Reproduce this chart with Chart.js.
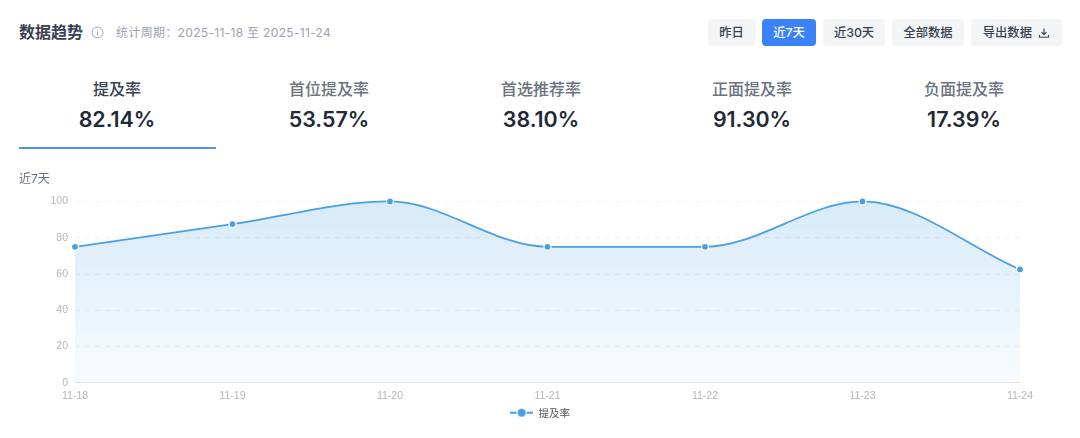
<!DOCTYPE html>
<html>
<head>
<meta charset="utf-8">
<script src="https://cdn.jsdelivr.net/npm/chart.js@4"></script>
<style>
  html, body { margin: 0; padding: 0; background: #fff; }
  body { width: 1080px; height: 438px; position: relative; overflow: hidden; font-family: Inter, "Noto Sans CJK SC", sans-serif; }
  .title { position: absolute; left: 19px; top: 21px; font-size: 16px; line-height: 22px; font-weight: 600; color: #374151; }
  .info { position: absolute; left: 91px; top: 26px; }
  .period { position: absolute; left: 116px; top: 24px; font-size: 12px; line-height: 17px; color: #9ca3af; letter-spacing: .32px; }
  .btn { position: absolute; top: 19px; height: 27px; line-height: 27px; text-align: center; font-size: 12.3px; font-weight: 500; color: #374151; background: #f3f4f6; border-radius: 4px; }
  .btn.on { background: #3b82f6; color: #fff; }
  .btn svg { vertical-align: -2px; margin-left: 3px; }
  .tab { position: absolute; top: 78px; width: 212px; text-align: center; }
  .tab .name { font-size: 16px; line-height: 22px; font-weight: 500; color: #6b7280; }
  .tab.on .name { color: #374151; }
  .tab .val { font-size: 21.4px; line-height: 28px; margin-top: 5px; font-weight: 600; color: #1f2937; }
  .bar { position: absolute; left: 19px; top: 147px; width: 197px; height: 2px; background: #4f8ff0; }
  .wrap { position: absolute; left: 0; top: 168px; width: 1080px; height: 270px; }
</style>
</head>
<body>
<div class="title">数据趋势</div>
<svg class="info" width="13" height="13" viewBox="0 0 13 13" fill="none" stroke="#9ca3af"><circle cx="6.5" cy="6.5" r="5.4"/><path d="M6.5 5.8v3.6M6.5 3.6v1"/></svg>
<div class="period">统计周期：2025-11-18 至 2025-11-24</div>
<div id="btns"></div>
<div id="tabs"></div>
<div class="bar"></div>
<div class="wrap"><canvas id="trend"></canvas></div>

<script>
const dates = ["11-18", "11-19", "11-20", "11-21", "11-22", "11-23", "11-24"];
const mention = [75, 87.5, 100, 75, 75, 100, 62.5];
const yTicks = [0, 20, 40, 60, 80, 100];

const tabNames = ["提及率", "首位提及率", "首选推荐率", "正面提及率", "负面提及率"];
const tabValues = ["82.14%", "53.57%", "38.10%", "91.30%", "17.39%"];
const tabLeft = [11, 223, 435, 646, 858];

const btnNames = ["昨日", "近7天", "近30天", "全部数据", "导出数据"];
const btnLeft = [708, 762, 823, 892, 971];
const btnWidth = [47, 54, 62, 72, 91];

const downloadIcon = '<svg width="12" height="12" viewBox="0 0 12 12" fill="none" stroke="#374151" stroke-width="1.1"><path d="M6 1.5v6M3.6 5.2 6 7.6l2.4-2.4M1.5 8v2.2h9V8"/></svg>';

btnNames.forEach((name, i) => {
  let b = document.createElement("div");
  b.className = "btn" + (i == 1 ? " on" : "");
  b.style.left = btnLeft[i] + "px";
  b.style.width = btnWidth[i] + "px";
  b.innerHTML = name + (i == 4 ? " " + downloadIcon : "");
  document.getElementById("btns").appendChild(b);
});

tabNames.forEach((name, i) => {
  let t = document.createElement("div");
  t.className = "tab" + (i == 0 ? " on" : "");
  t.style.left = tabLeft[i] + "px";
  t.innerHTML = '<div class="name">' + name + '</div><div class="val">' + tabValues[i] + '</div>';
  document.getElementById("tabs").appendChild(t);
});

// legend symbol: short line with a dot in the middle
function legendIcon() {
  let c = document.createElement("canvas");
  c.width = 23;
  c.height = 10;
  let g = c.getContext("2d");
  g.fillStyle = "#4a9fe3";
  g.fillRect(0, 4, 6.5, 2);
  g.fillRect(16.5, 4, 6.5, 2);
  g.beginPath();
  g.arc(11.5, 5, 4, 0, Math.PI * 2);
  g.fill();
  return c;
}

// the legend sits in the middle of the page, not of the padded chart box
const centerLegend = {
  id: "centerLegend",
  afterLayout(chart) {
    let shift = chart.width / 2 - (chart.legend.left + chart.legend.right) / 2;
    chart.legend.left += shift;
    chart.legend.right += shift;
  }
};

new Chart(document.getElementById("trend"), {
  type: "line",
  plugins: [centerLegend],
  data: {
    labels: dates,
    datasets: [{
      label: "提及率",
      data: mention,
      borderColor: "#4a9fe3",
      borderWidth: 1.8,
      cubicInterpolationMode: "monotone",
      clip: false,
      fill: true,
      backgroundColor: (ctx) => {
        let area = ctx.chart.chartArea;
        if (!area) return "transparent";
        let grad = ctx.chart.ctx.createLinearGradient(0, area.top, 0, area.bottom);
        grad.addColorStop(0, "rgba(74,159,227,0.22)");
        grad.addColorStop(1, "rgba(74,159,227,0.04)");
        return grad;
      },
      pointRadius: 3.5,
      pointBorderWidth: 1.2,
      pointBackgroundColor: "#4a9fe3",
      pointBorderColor: "#fff"
    }]
  },
  options: {
    responsive: true,
    maintainAspectRatio: false,
    animation: false,
    layout: { padding: { left: 19, right: 60, top: 0, bottom: 10 } },
    plugins: {
      tooltip: { enabled: false },
      title: {
        display: true,
        text: "近7天",
        align: "start",
        color: "#6b7280",
        font: { family: 'Inter, "Noto Sans CJK SC"', size: 12, weight: "normal" },
        padding: { top: 4, bottom: 15 }
      },
      legend: {
        position: "bottom",
        labels: {
          usePointStyle: true,
          pointStyleWidth: 23,
          color: "#555",
          font: { family: '"Noto Sans CJK SC"', size: 10.5 },
          boxHeight: 10,
          padding: 6,
          generateLabels: (chart) => [{
            text: chart.data.datasets[0].label,
            fontColor: "#555",
            pointStyle: legendIcon(),
            datasetIndex: 0
          }]
        }
      }
    },
    scales: {
      x: {
        offset: false,
        grid: { display: false },
        border: { color: "#e2e6ec" },
        ticks: { color: "#b5b5b5", font: { family: "Liberation Sans", size: 10.5 }, maxRotation: 0, padding: -1 }
      },
      y: {
        min: 0,
        max: 100,
        afterFit: (s) => { s.width = 56; },
        afterBuildTicks: (s) => { s.ticks = yTicks.map((v) => ({ value: v })); },
        border: { display: false, dash: [5, 5] },
        grid: {
          drawTicks: false,
          color: (ctx) => ctx.tick.value == 0 ? "transparent" : "#eef1f5"
        },
        ticks: { color: "#b5b5b5", font: { family: "Liberation Sans", size: 10.5 }, padding: 7 }
      }
    }
  }
});
</script>
</body>
</html>
